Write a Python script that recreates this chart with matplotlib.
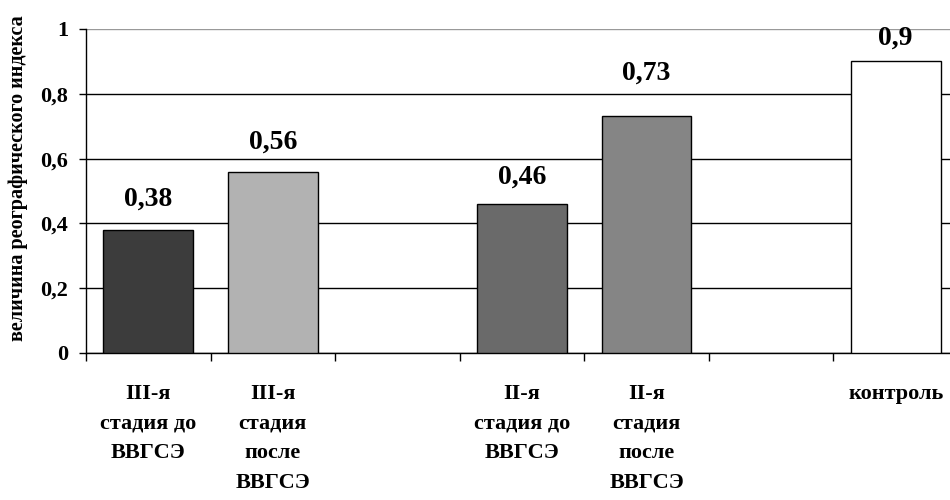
import matplotlib
matplotlib.use("Agg")
import matplotlib.pyplot as plt

# data
categories = [
    "III-я\nстадия до\nВВГСЭ",
    "III-я\nстадия\nпосле\nВВГСЭ",
    "",
    "II-я\nстадия до\nВВГСЭ",
    "II-я\nстадия\nпосле\nВВГСЭ",
    "",
    "контроль",
]
values = [0.38, 0.56, None, 0.46, 0.73, None, 0.9]
value_labels = ["0,38", "0,56", "", "0,46", "0,73", "", "0,9"]
bar_colors = ["#3c3c3c", "#b2b2b2", "white", "#6a6a6a", "#858585", "white", "white"]
label_offsets = [13, 12, 0, 10, 22, 0, 8]  # points above bar top
y_ticks = [0, 0.2, 0.4, 0.6, 0.8, 1.0]
y_tick_labels = ["0", "0,2", "0,4", "0,6", "0,8", "1"]

plt.rcParams["font.family"] = ["Liberation Serif", "DejaVu Serif"]
plt.rcParams["font.weight"] = "bold"

fig = plt.figure(figsize=(9.5, 5), dpi=100)
ax = fig.add_axes([86 / 950, 1 - 353 / 500, 872 / 950, 324 / 500])

x = list(range(len(categories)))
for i, v in enumerate(values):
    if v is None:
        continue
    ax.bar(i, v, width=0.72, color=bar_colors[i], edgecolor="black",
           linewidth=1.0, zorder=3)
    ax.annotate(value_labels[i], (i, v), xytext=(0, label_offsets[i]),
                textcoords="offset points", ha="center", va="bottom",
                fontsize=20, fontweight="bold", zorder=4)

ax.set_xlim(-0.5, len(categories) - 0.5)
ax.set_ylim(0, 1)
ax.set_yticks(y_ticks)
ax.set_yticklabels(y_tick_labels, fontsize=16, fontweight="bold")

ax.set_xticks(x)
ax.set_xticklabels(categories, fontsize=16, fontweight="bold", linespacing=1.65,
                   va="top")
ax.tick_params(axis="x", which="major", length=0, pad=22)
ax.set_xticks([i - 0.5 for i in range(len(categories) + 1)], minor=True)
ax.tick_params(axis="x", which="minor", length=6, width=1, direction="out")
ax.tick_params(axis="y", length=5, width=1, direction="out", pad=8)

ax.yaxis.grid(True, color="black", linewidth=1.0, zorder=0)
ax.set_axisbelow(True)
ax.get_ygridlines()[-1].set_color("#999999")

ax.spines["top"].set_visible(False)
ax.spines["right"].set_visible(False)
ax.spines["left"].set_linewidth(1.0)
ax.spines["bottom"].set_linewidth(1.0)

ax.set_ylabel("величина реографического индекса", fontsize=14.5,
              fontweight="bold")
ax.yaxis.set_label_coords(-0.066, 0.54)

fig.savefig("out.png", dpi=100)
